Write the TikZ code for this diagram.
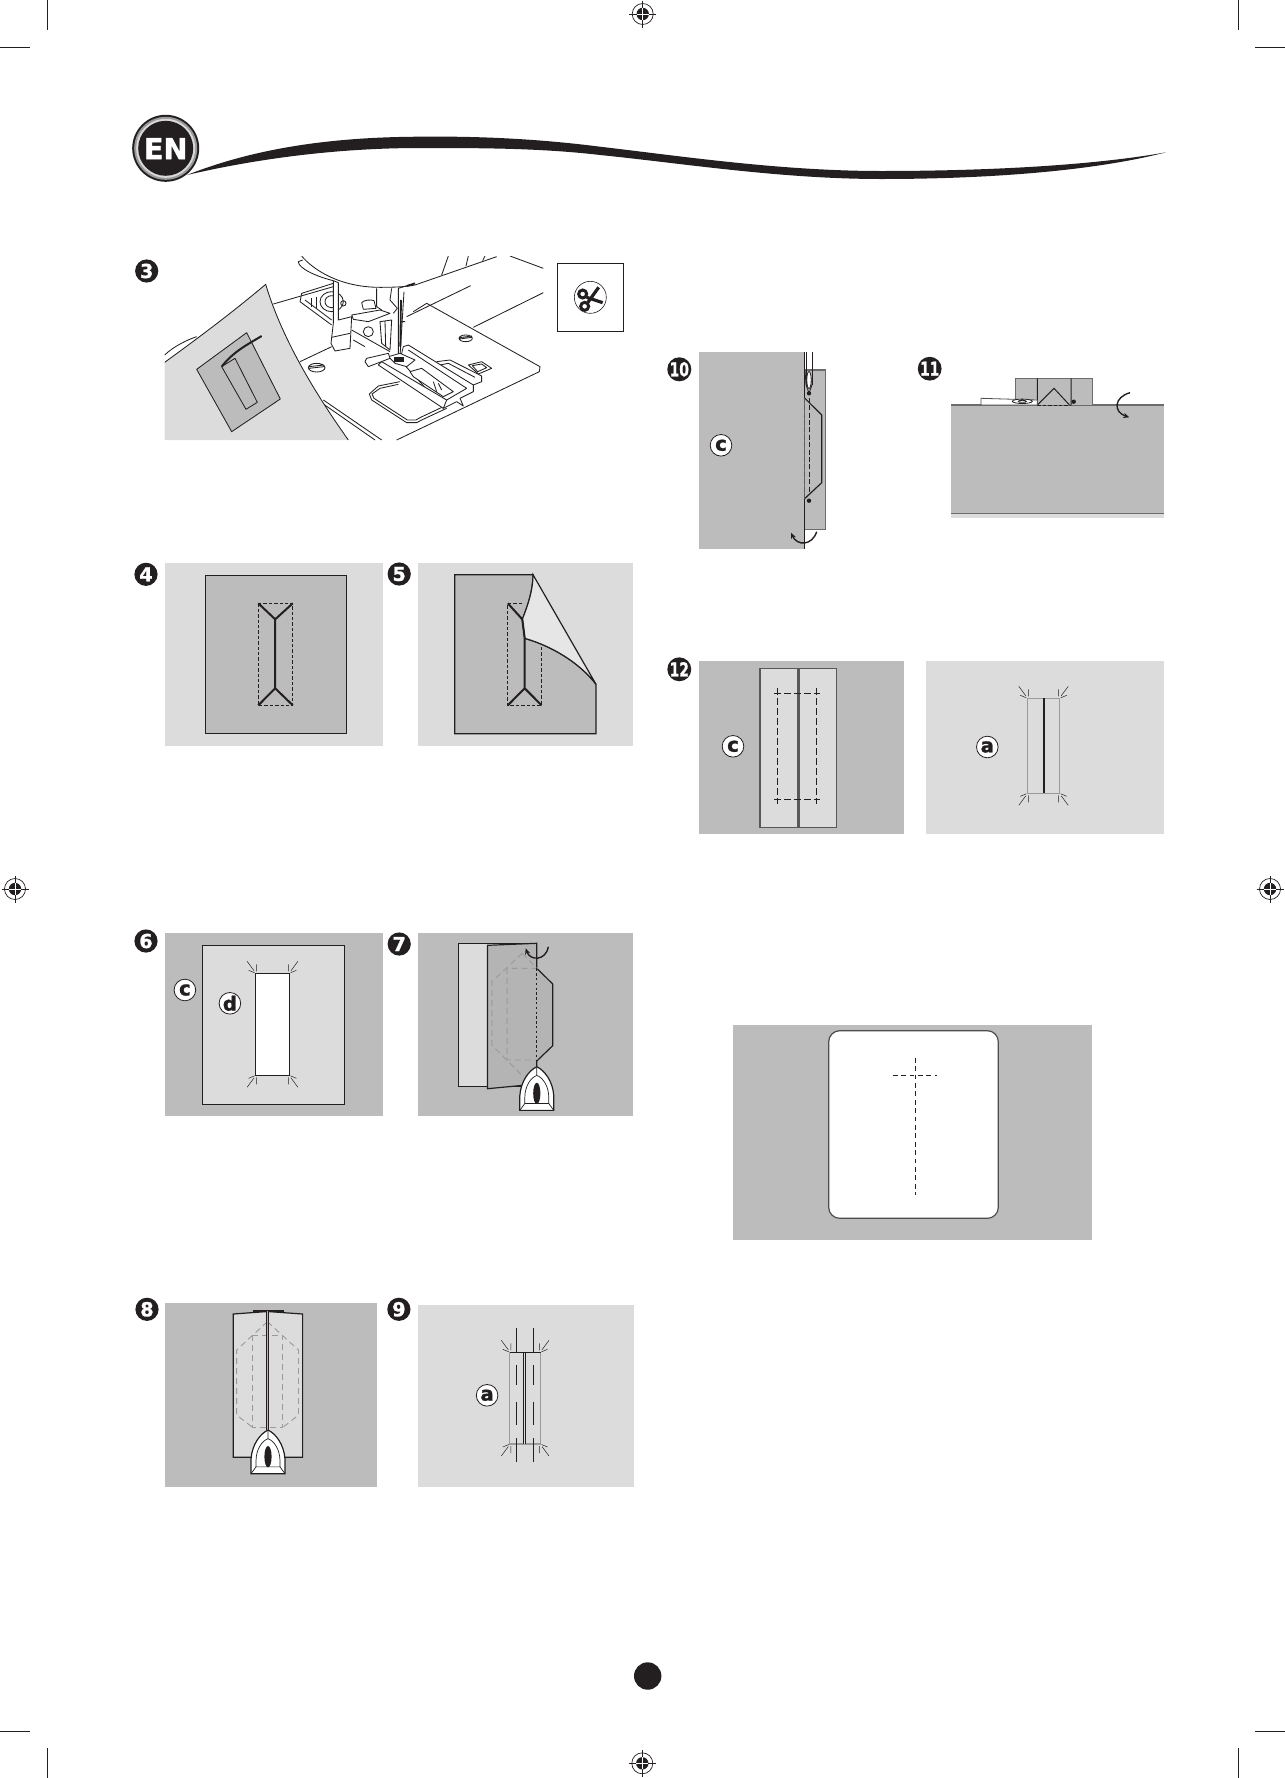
\documentclass[tikz,border=0pt]{standalone}
\usepackage{fontspec}
\setmainfont{DejaVu Sans}[BoldFeatures={FakeBold=1.3}]
\usepackage{graphicx}
\usetikzlibrary{arrows.meta,calc}
\definecolor{koyuGri}{HTML}{BCBCBC}
\definecolor{acikGri}{HTML}{DCDCDC}
\definecolor{kumasGri}{HTML}{B4B4B4}
\definecolor{siyah}{HTML}{231F20}
\definecolor{kenarGri}{HTML}{9A9A9A}
\tikzset{
  numbadge/.style={circle,fill=siyah,text=white,minimum size=11.6pt,inner sep=0pt,font=\bfseries\fontsize{9.6}{9.6}\selectfont},
  letterbadge/.style={circle,draw=siyah,line width=0.4pt,fill=white,text=siyah,minimum size=10.8pt,inner sep=0pt,font=\bfseries\fontsize{9.8}{9.8}\selectfont},
  outline/.style={draw=siyah,line width=0.6pt},
  machine/.style={draw=siyah,line width=0.42pt,line join=round},
  stitch/.style={draw=siyah,line width=0.45pt,dash pattern=on 1.7pt off 1pt},
  widestitch/.style={draw=siyah,line width=0.5pt,dash pattern=on 3.3pt off 1.7pt},
  greystitch/.style={draw=kenarGri,line width=0.45pt,dash pattern=on 3pt off 2pt},
  turnarrow/.style={draw=siyah,line width=0.7pt,-{Stealth[length=3pt,width=2.6pt]}},
  tickline/.style={draw=siyah,line width=0.25pt},
}
\newcommand{\regmark}[2]{%
  \draw[line width=0.35pt,siyah] (#1,#2) circle (10.5);
  \fill[siyah] (#1,#2) circle (6.2);
  \draw[line width=0.35pt,siyah] (#1-13.5,#2)--(#1-6,#2) (#1+6,#2)--(#1+13.5,#2) (#1,#2-13.5)--(#1,#2-6) (#1,#2+6)--(#1,#2+13.5);
  \draw[line width=0.35pt,white] (#1-6,#2)--(#1+6,#2) (#1,#2-6)--(#1,#2+6);
}
\newcommand{\holeticks}[4]{%
  \foreach \cx/\cy/\sx/\sy in {#1/#2/1/1,#3/#2/-1/1,#1/#4/1/-1,#3/#4/-1/-1} {
    \begin{scope}[shift={(\cx,\cy)},xscale=\sx,yscale=\sy]
    \draw[tickline] (1,-9)--(1,-2) (-8.5,-12)--(-1.5,-2.5) (-7,-3)--(-1,-0.5);
    \end{scope}
  }
}
\newcommand{\ironshape}[2]{%
  \begin{scope}[shift={(#1,#2)},yscale=0.97]
  \draw[outline,fill=white] (0,0) .. controls (8,4) and (16,15) .. (17,30) -- (17,45) -- (-17,45) -- (-17,30) .. controls (-16,15) and (-8,4) .. (0,0);
  \draw[line width=0.35pt,siyah] (0,0)--(0,9) (0,9) .. controls (6,11) and (12,20) .. (12,32) -- (12,38) -- (-12,38) -- (-12,32) .. controls (-12,20) and (-6,11) .. (0,9);
  \draw[line width=0.35pt,siyah] (12,38)--(17,45) (-12,38)--(-17,45);
  \fill[siyah] (0,27.5) ellipse (3.6 and 11);
  \end{scope}
}
\begin{document}
\begin{tikzpicture}[x=0.5pt,y=-0.5pt]
\useasboundingbox (0,0) rectangle (1285,1778);
% crop marks
\draw[line width=0.5pt,siyah] (47,0)--(47,30) (0,47)--(30,47);
\draw[line width=0.5pt,siyah] (1238,0)--(1238,30) (1255,47)--(1285,47);
\draw[line width=0.5pt,siyah] (47,1778)--(47,1748) (0,1731)--(30,1731);
\draw[line width=0.5pt,siyah] (1238,1778)--(1238,1748) (1255,1731)--(1285,1731);
\regmark{642.7}{14}
\regmark{642.3}{1763.3}
\regmark{15}{889}
\regmark{1270}{889}
% page dot
\fill[siyah] (647.7,1676) circle (13.7);
% header
\fill[siyah] (187,175) .. controls (260,146) and (340,137) .. (420,136.7) .. controls (480,136) and (540,139) .. (600,146.7) .. controls (680,156) and (780,171) .. (881,171) .. controls (981,171) and (1090,166) .. (1166,152.3) .. controls (1090,172) and (981,179) .. (881,179) .. controls (780,179) and (680,163) .. (600,155) .. controls (540,148) and (480,148) .. (420,148) .. controls (340,148) and (260,158) .. (187,175) -- cycle;
\fill[siyah] (165.7,148.3) circle (33.5);
\fill[kenarGri] (165.7,148.3) circle (31.5);
\fill[white!85!black] (165.7,148.3) circle (29.5);
\fill[siyah] (165.7,148.3) circle (27.5);
\node[text=white,inner sep=0pt,font=\bfseries\fontsize{14.4}{14.4}\selectfont] (enBadge) at (165.7,148.6) {EN};
% 3) machine
\node[numbadge] (numThree) at (146.7,271) {3};
\begin{scope}[shift={(120,90)},scale=1/3]
\clip (134,498) rectangle (1275,1050);
\draw[machine] (1170,498)--(1270,535) (1270,608)--(1060,712) (1052,587)--(860,680);
\draw[machine] (985,498)--(965,555) (1045,498)--(1038,528) (1095,498)--(1088,512);
% throat plate
\draw[machine] (880,665)--(920,640)--(1260,830)--(1258,845)--(830,1050);
\draw[machine] (610,930)--(785,1050) (600,935)--(765,1050);
\draw[machine] (460,642)--(640,590) (540,815)--(635,770);
\draw[machine] (545,498) .. controls (580,540) and (660,592) .. (780,592) .. controls (830,592) and (860,590) .. (885,585) -- (1130,500);
\draw[machine] (548,510) -- (535,515) .. controls (535,535) and (590,560) .. (640,572);
\begin{scope}[shift={(540,480)}]
% bobbin case
\draw[machine] (0,155)--(5,130)--(100,100) (0,155)--(95,225) (15,150)--(95,210);
\draw[machine] (95,155) ellipse (35 and 30) (95,155) ellipse (20 and 18) (130,160) circle (8);
\draw[machine] (35,145)--(35,170) (48,140)--(48,175);
% column
\draw[machine,fill=white] (100,92)--(100,220)--(93,280)--(105,303)--(150,295)--(155,200)--(115,210)--(115,98)--cycle;
\draw[machine] (95,262)--(150,250);
% foot holder
\draw[machine] (230,115)--(230,170)--(245,180) (275,115)--(270,150)--(292,175)--(280,190);
\draw[machine,fill=white] (185,158) .. controls (190,150) and (215,148) .. (222,152)--(228,175)--(190,178)--cycle;
\draw[machine,fill=white] (155,195)--(240,180)--(270,190)--(205,215)--(160,208)--cycle;
\draw[machine,fill=white] (205,245) circle (15);
\draw[machine,fill=white] (240,215)--(245,280)--(270,300)--(275,210)--cycle (255,212)--(257,290);
\draw[machine] (155,240)--(270,305) (160,270)--(195,290);
% needle
\draw[machine] (295,115)--(295,320) (312,125)--(300,320) (295,115)--(345,100) (300,215)--(315,215);
\draw[siyah,line width=0.9pt] (320,108)--(345,100) (303,150)--(301,290);
% feed window
\draw[machine] (440,475)--(365,510)--(350,518)--(320,518)--(215,450)--(208,432)--(235,408)--(300,395);
\draw[machine] (430,470)--(362,502)--(348,510)--(322,510)--(222,445)--(216,432)--(240,415)--(295,403);
\draw[machine] (410,335)--(450,330)--(545,378)--(545,395)--(520,405) (420,345)--(445,340)--(525,382);
\draw[machine] (505,345)--(545,335)--(575,355)--(535,372)--cycle (517,347)--(545,342)--(560,353)--(533,365)--cycle;
% foot
\draw[machine,fill=white] (310,290)--(325,285)--(520,405)--(520,425)--(480,445)--(490,468)--(470,455)--(430,475)--(400,440)--(300,330)--cycle;
\draw[machine] (325,300)--(500,415) (500,415)--(440,450);
\draw[machine,fill=white] (330,365)--(365,355)--(460,425)--(430,440)--(340,380)--cycle;
\draw[machine] (400,395)--(410,425) (415,400)--(425,420);
\draw[machine,fill=white] (265,320)--(300,310)--(345,330)--(320,350)--(285,340)--cycle;
\fill[siyah] (282,320) rectangle (312,335);
\draw[machine,fill=white] (245,335)--(440,450)--(430,475)--(235,345)--cycle;
\draw[machine,fill=white] (195,335)--(205,350)--(270,325)--(265,310)--(200,325)--cycle;
\end{scope}
% screws
\draw[machine] (590,833) ellipse (25 and 13) (566,835)--(612,830) (566,830)--(612,825);
\draw[machine] (1037,745) ellipse (20 and 10) (1018,747)--(1056,742) (1018,743)--(1056,738);
% fabric
\draw[machine] (134,795) .. controls (160,770) and (200,750) .. (230,740);
\path[fill=acikGri] (437,583) .. controls (340,665) and (240,740) .. (134,817) -- (134,1050) -- (685,1050) .. controls (600,930) and (490,760) .. (437,583) -- cycle;
\draw[machine] (134,817) .. controls (240,740) and (340,665) .. (437,583) .. controls (490,760) and (600,930) .. (685,1050);
\draw[machine,fill=koyuGri] (380,728)--(230,838)--(335,1025)--(481,927)--cycle;
\draw[machine] (305,830)--(345,805)--(412,937)--(378,958)--cycle;
\draw[siyah,line width=1pt] (305,830) .. controls (340,785) and (380,765) .. (425,738);
\end{scope}
% scissors box
\begin{scope}[shift={(120,90)},scale=1/3]
\draw[line width=0.5pt,siyah] (1312,520) rectangle (1510,724);
\draw[line width=0.3pt,siyah] (1411,622) circle (48);
\draw[siyah,line width=1.5pt] (1388,612) circle (12) (1394,649) circle (12);
\draw[siyah,line width=1.6pt] (1400,622)--(1448,638) (1403,638)--(1436,592);
\end{scope}
% 4)
\node[numbadge] (numFour) at (146,574.3) {4};
\fill[acikGri] (164.5,562.5) rectangle (383.3,745.7);
\draw[outline,fill=koyuGri] (205.2,575.3) rectangle (346.5,733.7);
\draw[stitch] (258.3,603.3) rectangle (292.8,705.3);
\draw[siyah,line width=1pt] (258.3,603.3)--(275.2,619.3)--(292.8,603.3) (275.2,619.3)--(275.2,688.3) (258.3,705.3)--(275.2,688.3)--(292.8,705.3);
% 5)
\node[numbadge] (numFive) at (399.2,574) {5};
\fill[acikGri] (417.5,562.5) rectangle (632.8,745.7);
\draw[outline,fill=koyuGri] (454.7,574.7) -- (533,574.7) .. controls (533,590) and (528,605) .. (522.3,619.3) -- (524.7,638.3) .. controls (558,648) and (583,667) .. (596,684.3) -- (596,733.7) -- (454.7,733.7) -- cycle;
\draw[outline,fill=acikGri!70!white] (533,574.7) -- (596,684.3) .. controls (583,667) and (558,648) .. (524.7,638.3) -- (522.3,619.3) .. controls (528,605) and (533,590) .. (533,574.7) -- cycle;
\draw[stitch] (522,603.3)--(507.8,603.3)--(507.8,705.3)--(541.6,705.3)--(541.6,644);
\draw[siyah,line width=1pt] (507.8,603.3)--(522.3,619.3)--(524.7,638.3)--(524.7,688.3) (507.8,705.3)--(524.7,688.3)--(541.6,705.3);
% 6)
\node[numbadge] (numSix) at (146,941) {6};
\fill[koyuGri] (164.5,933.3) rectangle (383.3,1115.7);
\draw[outline,fill=acikGri] (202.8,945.3) rectangle (344.8,1104.3);
\draw[outline,fill=white] (255.6,973.3) rectangle (289.4,1075.3);
\holeticks{255.6}{973.3}{289.4}{1075.3}
\node[letterbadge] (labelSixC) at (184.9,990) {c};
\node[letterbadge] (labelSixD) at (229.9,1003.3) {d};
% 7)
\node[numbadge] (numSeven) at (399.2,944) {7};
\fill[koyuGri] (417.5,933.3) rectangle (632.8,1115.7);
\draw[outline,fill=acikGri] (458.7,943.3) rectangle (536.8,1086.3);
\draw[outline,fill=kumasGri] (487.5,945.3) -- (536.8,943.3) -- (536.8,968.3) -- (552.7,984) -- (552.7,1045.7) -- (536.8,1061) -- (536.8,1084) -- (487.5,1088.7) -- cycle;
\draw[greystitch] (522.3,953.3)--(491.9,981.7)--(491.9,1045)--(522.3,1075.7) (522.3,953.3)--(536.8,968.3)--(507.1,968.3)--(507.1,1060)--(536.8,1060);
\draw[siyah,line width=0.5pt,dash pattern=on 1.2pt off 1.2pt] (536.8,968.3)--(536.8,1061);
\draw[turnarrow,{Stealth[length=3pt,width=2.6pt]}-] (525.7,948.3) .. controls (530,961) and (546,961) .. (548.3,946.7);
\ironshape{536.8}{1066.7}
% 8)
\node[numbadge] (numEight) at (147,1309.3) {8};
\fill[koyuGri] (164.5,1303.3) rectangle (376.9,1486.7);
\draw[siyah,line width=1.2pt] (252.5,1311.5)--(283.6,1311.5);
\draw[outline,fill=acikGri] (233.2,1314) -- (267.4,1311.5) -- (302.6,1314) -- (302.6,1457.3) -- (233.2,1457.3) -- cycle;
\draw[greystitch] (267.4,1321.7)--(236.6,1350)--(236.6,1415)--(252.5,1427.3) (267.4,1321.7)--(298.5,1350)--(298.5,1415)--(282.9,1427.3);
\draw[greystitch] (252.5,1335) rectangle (282.9,1427.3);
\draw[siyah,line width=1.4pt] (267.4,1310.7)--(267.4,1430);
\draw[kumasGri,line width=0.4pt] (267.4,1310.7)--(267.4,1430);
\ironshape{268}{1430}
% 9)
\node[numbadge] (numNine) at (398.9,1309.3) {9};
\fill[acikGri] (417.5,1305) rectangle (633.9,1486.7);
\draw[draw=kenarGri,line width=0.6pt] (509.8,1352.3) rectangle (540.5,1444);
\draw[siyah,line width=0.45pt] (516.6,1328.3)--(516.6,1353.3) (533.5,1328.3)--(533.5,1353.3) (516.6,1365)--(516.6,1385) (533.5,1365)--(533.5,1385) (516.6,1401.7)--(516.6,1425) (533.5,1401.7)--(533.5,1425) (516.6,1438.3)--(516.6,1462.3) (533.5,1438.3)--(533.5,1462.3);
\draw[siyah,line width=1.2pt] (524.3,1352.3)--(524.3,1444);
\draw[acikGri,line width=0.3pt] (524.3,1352.3)--(524.3,1444);
\draw[siyah,line width=0.3pt] (509.8,1352.3)--(540.5,1352.3);
\holeticks{509.8}{1352.3}{540.5}{1444}
\node[letterbadge] (labelNineA) at (487.1,1395.3) {a};
% 10)
\node[numbadge] (numTen) at (679.3,369.3) {\scalebox{0.72}[1]{10}};
\draw[draw=kenarGri!70!black,line width=0.6pt,fill=koyuGri] (804.3,370) rectangle (825.7,529.3);
\draw[siyah,line width=0.4pt] (812.5,352.3)--(812.5,385) (806.5,352.3)--(806.5,385);
\fill[koyuGri] (699,352.3) rectangle (804.3,549);
\draw[siyah,line width=0.6pt] (804.3,352.3)--(804.3,397.7) (804.3,499)--(804.3,549);
\draw[siyah,line width=0.4pt,fill=white] (809,380) ellipse (2.2 and 8.5);
\draw[siyah,line width=0.4pt] (812.3,375) -- (812,385) -- (809,393) -- (806,385) -- (805,370);
\draw[outline] (804.3,397.7)--(821.7,415)--(821.7,482.7)--(804.3,499);
\draw[greystitch,draw=kenarGri!60!black,dash pattern=on 2.5pt off 1.2pt,line width=0.6pt] (804.3,397.7)--(804.3,499);
\draw[stitch,dash pattern=on 2.5pt off 1.2pt,line width=0.4pt] (809,397.7)--(809,493);
\fill[siyah] (809,393.3) circle (2.2) (809,500.7) circle (2.2);
\draw[turnarrow,{Stealth[length=3pt,width=2.6pt]}-] (791,532.7) .. controls (797,546) and (812,546) .. (816.7,531.7);
\node[letterbadge] (labelTenC) at (721,445.3) {c};
% 11)
\node[numbadge] (numEleven) at (929.7,368.7) {\scalebox{0.72}[1]{11}};
\fill[acikGri] (951,513.3) rectangle (1164,517.7);
\fill[koyuGri] (951,405) rectangle (1164,513.3);
\draw[draw=kenarGri!70!black,line width=0.6pt] (951,405)--(1164,405);
\draw[draw=kenarGri!70!black,line width=0.8pt] (951,513.3)--(1164,513.3);
\draw[draw=kenarGri!70!black,line width=0.6pt,fill=koyuGri] (1015.7,405) -- (1015.7,378.3) -- (1092.3,378.3) -- (1092.3,405);
\draw[siyah,line width=0.5pt] (1037.3,378.3)--(1037.3,405) (1071,378.3)--(1071,405) (1037.3,405)--(1054,388.3)--(1069.5,405);
\draw[stitch] (1037.3,405)--(1071,405);
\draw[draw=siyah!80!white,line width=0.4pt,fill=white] (981,405)--(981,398.3)--(1037.3,400)--(1037.3,405)--cycle;
\draw[siyah,line width=0.4pt,fill=white] (1022.3,401.3) ellipse (10 and 2.2) (1022.3,401.3) ellipse (4 and 1);
\fill[siyah] (1073.7,401.7) circle (2.2);
\draw[turnarrow] (1130,392.7) .. controls (1114,397) and (1113,412) .. (1129.3,417.3);
% 12)
\node[numbadge] (numTwelve) at (679.3,669.3) {\scalebox{0.72}[1]{12}};
\fill[koyuGri] (699,661) rectangle (904,833.7);
\draw[draw=siyah!75!white,line width=0.7pt,fill=acikGri] (760,668.3) rectangle (797.3,827.3);
\draw[draw=siyah!75!white,line width=0.7pt,fill=acikGri] (799,668.3) rectangle (836.3,827.3);
\draw[widestitch] (777.7,688)--(777.7,804) (816.7,688)--(816.7,804) (774,693.3)--(820,693.3) (774,799.3)--(820,799.3);
\node[letterbadge] (labelTwelveC) at (733,746.3) {c};
\fill[acikGri] (926,661) rectangle (1164,833.7);
\draw[draw=kenarGri,line width=0.6pt] (1027.3,698.3) rectangle (1059.7,793.3);
\draw[siyah,line width=1pt] (1044,698.3)--(1044,793.3);
\holeticks{1027.3}{698.3}{1059.7}{793.3}
\node[letterbadge] (labelTwelveA) at (987.3,747) {a};
% last picture
\fill[koyuGri] (733,1025) rectangle (1092,1240);
\draw[draw=siyah!80!white,line width=0.6pt,fill=white,rounded corners=5.5pt] (828.7,1030.7) rectangle (998.3,1218.3);
\draw[stitch,dash pattern=on 2.4pt off 1.8pt] (915.3,1057.7)--(915.3,1195) (892.7,1075.3)--(937.3,1075.3);
\end{tikzpicture}
\end{document}
